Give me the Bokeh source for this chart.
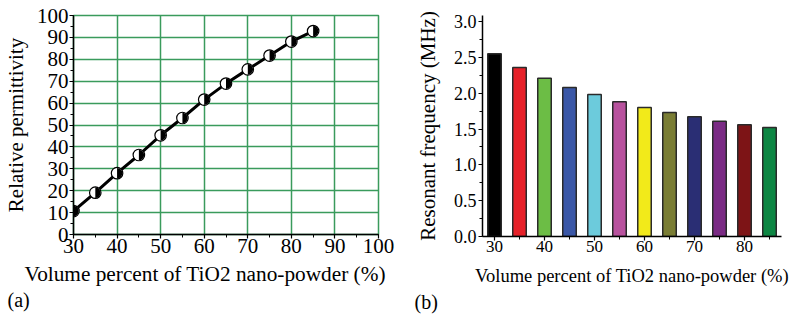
import numpy as np
from bokeh.plotting import figure
from bokeh.layouts import row
from bokeh.models import SingleIntervalTicker, FixedTicker, Title, NumeralTickFormatter
from bokeh.embed import file_html
from bokeh.resources import INLINE

# ---- data (a) ----
volume_a = [30, 35, 40, 45, 50, 55, 60, 65, 70, 75, 80, 85]
permittivity = [10.7, 19.1, 28.0, 36.3, 45.3, 53.2, 61.6, 68.9, 75.4, 81.7, 88.1, 92.9]

# ---- data (b) ----
volume_b = [30, 35, 40, 45, 50, 55, 60, 65, 70, 75, 80, 85]
frequency = [2.55, 2.36, 2.21, 2.08, 1.98, 1.88, 1.80, 1.73, 1.67, 1.61, 1.56, 1.52]
bar_colors = ["#000000", "#e62129", "#6cbd45", "#3a57a7", "#6ccbdc", "#b8529e",
              "#f2ea1a", "#7a7d34", "#2a2e74", "#7a2a84", "#7d1416", "#0d8643"]
b_tick_labels = [30, 40, 50, 60, 70, 80]
b_minor_ticks = [35, 45, 55, 65, 75, 85]

x_title = "Volume percent of TiO2 nano-powder (%)"
FONT = "Liberation Serif"
GREEN = "#3a9b5c"


def style_axis(ax, tick_size, title_size, title_standoff, label_standoff):
    ax.axis_line_color = "black"
    ax.axis_line_width = 1.5
    ax.major_tick_line_color = "black"
    ax.minor_tick_line_color = "black"
    ax.major_tick_line_width = 1.2
    ax.minor_tick_line_width = 1.0
    ax.major_tick_in = 0
    ax.major_tick_out = 4
    ax.minor_tick_in = 0
    ax.minor_tick_out = 3
    ax.major_label_text_font = FONT
    ax.major_label_text_font_size = tick_size
    ax.major_label_text_color = "black"
    ax.major_label_standoff = label_standoff
    ax.axis_label_text_font = FONT
    ax.axis_label_text_font_size = title_size
    ax.axis_label_text_font_style = "normal"
    ax.axis_label_text_color = "black"
    ax.axis_label_standoff = title_standoff


def below_title(text, size, offset, align, standoff):
    return Title(text=text, align=align, offset=offset, text_font=FONT,
                 text_font_size=size, text_font_style="normal",
                 text_color="black", standoff=standoff)


# ================= (a) =================
p1 = figure(frame_width=305, frame_height=219, x_range=(30, 100), y_range=(0, 100),
            output_backend="svg", toolbar_location=None,
            min_border_left=72, min_border_right=25, min_border_top=15,
            min_border_bottom=86)
p1.background_fill_color = "white"
p1.border_fill_color = "white"
p1.outline_line_color = GREEN
p1.outline_line_width = 1.5

p1.xaxis.ticker = SingleIntervalTicker(interval=10, num_minor_ticks=2)
p1.yaxis.ticker = SingleIntervalTicker(interval=10, num_minor_ticks=2)
p1.yaxis.axis_label = "Relative permittivity"
style_axis(p1.xaxis[0], "21px", "21px", 6, 0)
style_axis(p1.yaxis[0], "21px", "21px", 6, 1)

p1.xgrid.grid_line_color = GREEN
p1.ygrid.grid_line_color = GREEN
p1.xgrid.grid_line_width = 1.5
p1.ygrid.grid_line_width = 1.5

p1.line(volume_a, permittivity, line_width=3, line_color="black")
p1.scatter(volume_a, permittivity, size=11.5, fill_color="white",
           line_color="black", line_width=1.2)
p1.wedge(volume_a, permittivity, radius=5.3, radius_units="screen",
         start_angle=-np.pi / 2, end_angle=np.pi / 2,
         fill_color="black", line_color=None)

p1.add_layout(below_title(x_title, "21.3px", -49, "left", 8), "below")
p1.add_layout(below_title("(a)", "20px", -66, "left", -6), "below")

# ================= (b) =================
p2 = figure(frame_width=299, frame_height=221, x_range=(27.6, 87.4), y_range=(0, 3.084),
            output_backend="svg", toolbar_location=None,
            min_border_left=79, min_border_right=8, min_border_top=15,
            min_border_bottom=84)
p2.outline_line_color = None
p2.xgrid.visible = False
p2.ygrid.visible = False

p2.vbar(x=volume_b, top=frequency, width=2.7, fill_color=bar_colors,
        line_color="#2a2a2a", line_width=1.5)

p2.xaxis.ticker = FixedTicker(ticks=b_tick_labels, minor_ticks=b_minor_ticks)
p2.yaxis.ticker = SingleIntervalTicker(interval=0.5, num_minor_ticks=2)
p2.yaxis.formatter = NumeralTickFormatter(format="0.0")
p2.yaxis.axis_label = "Resonant frequency (MHz)"
style_axis(p2.xaxis[0], "17px", "18px", 4, 0)
style_axis(p2.yaxis[0], "18px", "21px", 11, 2)

p2.add_layout(below_title(x_title, "18.5px", 0, "center", 19), "below")
p2.add_layout(below_title("(b)", "20px", -68, "left", -14), "below")

layout = row(p1, p2)
open("out.html", "w").write(file_html(layout, INLINE))
